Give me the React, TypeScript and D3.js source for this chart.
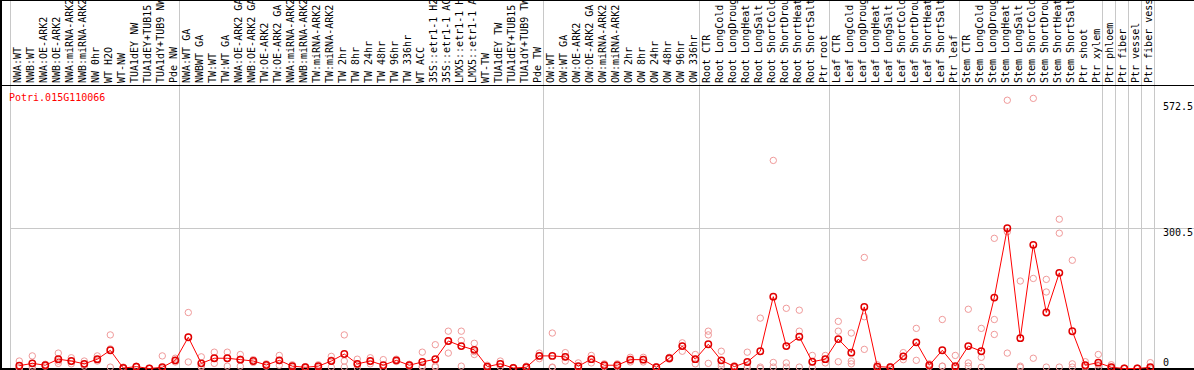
import React from "react";
import * as d3 from "d3";

const title = "Potri.015G110066";

const labels = [
  "NWA:WT", "NWB:WT", "NWA:OE-ARK2", "NWB:OE-ARK2", "NWA:miRNA-ARK2", "NWB:miRNA-ARK2",
  "NW 0hr", "WT H2O", "WT-NW", "TUA1dEY NW", "TUA1dEY+TUB15", "TUA1dY+TUB9 NW", "Pde NW",
  "NWA:WT GA", "NWBWT GA", "TW:WT", "TW:WT GA", "NWA:OE-ARK2 GA", "NWB:OE-ARK2 GA",
  "TW:OE-ARK2", "TW:OE-ARK2 GA", "NWA:miRNA-ARK2", "NWB:miRNA-ARK2", "TW:miRNA-ARK2",
  "TW:miRNA-ARK2", "TW 2hr", "TW 8hr", "TW 24hr", "TW 48hr", "TW 96hr", "TW 336hr",
  "WT ACC", "35S::etr1-1 H2", "35S::etr1-1 AC", "LMX5::etr1-1 H", "LMX5::etr1-1 A",
  "WT-TW", "TUA1dEY TW", "TUA1dEY+TUB15", "TUA1dY+TUB9 TW", "Pde TW",
  "OW:WT", "OW:WT GA", "OW:OE-ARK2", "OW:OE-ARK2 GA", "OW:miRNA-ARK2", "OW:miRNA-ARK2",
  "OW 2hr", "OW 8hr", "OW 24hr", "OW 48hr", "OW 96hr", "OW 336hr",
  "Root CTR", "Root LongCold", "Root LongDroug", "Root LongHeat", "Root LongSalt",
  "Root ShortCold", "Root ShortDrou", "Root ShortHeat", "Root ShortSalt", "Ptr root",
  "Leaf CTR", "Leaf LongCold", "Leaf LongDroug", "Leaf LongHeat", "Leaf LongSalt",
  "Leaf ShortCold", "Leaf ShortDrou", "Leaf ShortHeat", "Leaf ShortSalt", "Ptr leaf",
  "Stem CTR", "Stem LongCold", "Stem LongDroug", "Stem LongHeat", "Stem LongSalt",
  "Stem ShortCold", "Stem ShortDrou", "Stem ShortHeat", "Stem ShortSalt", "Ptr shoot",
  "Ptr xylem", "Ptr phloem", "Ptr fiber", "Ptr vessel", "Ptr fiber vess",
];

const means = [
  6, 11, 7, 20, 16, 10, 20, 39, 1, 4, 0, 2.6, 17.5,
  67, 11, 22, 22, 19, 16, 7.5, 17.5, 5, 2.6, 5, 16, 31, 10, 16, 7, 17.5, 7, 14, 20, 59, 48, 40, 4, 10, 1, 2.6, 27,
  27, 25, 5, 20, 7, 7, 19, 19, 2.6, 22, 48, 20,
  52, 17.5, 4, 14, 37, 154, 48, 68, 14.5, 20,
  63, 34, 132, 4, 2.6, 26, 56, 7, 39, 5,
  48, 37, 152, 300.5, 65, 265, 120, 205, 80, 7, 12.5,
  2.6, 0, 0, 2.6,
];

const repA = [
  16, 27, 9, 33, 23, 16, 27, 72, 3, 5, 0, 27, 22,
  120, 25, 35, 35, 30, 19, 10, 28, 8, 4, 8, 26, 72, 20, 23, 19, 20, 9, 35, 51, 80, 80, 54, 7, 16, 2, 5, 33,
  76, 34, 12, 28, 10, 10, 24, 24, 4, 24, 55, 30,
  80, 37, 6, 35, 108, 446, 129, 125, 28, 28,
  101, 76, 238, 8, 4, 34, 86, 10, 105, 28,
  127, 86, 279, 575, 187.5, 579, 191, 320, 232, 14.5, 30,
  8, 1, 1, 12.5,
];
const repB = [
  2, 5, 7, 16, 15, 9, 18, 42, 0, 4, 0, 1, 17,
  67, 5, 22, 22, 20, 16, 7, 17, 5, 2, 5, 18, 16, 8, 15, 2, 17, 7, 5, 5, 59, 60, 36, 4, 10, 1, 2, 27,
  3, 25, 3, 20, 7, 7, 19, 19, 2, 22, 48, 20,
  72, 10, 4, 5, 3, 13, 12, 80, 14, 20,
  80, 16, 111, 4, 2, 26, 56, 7, 5, 2,
  12, 24, 105, 293, 5, 193, 164, 290, 10, 5, 8,
  1, 0, 0, 0,
];
const repC = [
  0, 1, 5, 11, 10, 5, 16, 3, 0, 3, 0, 0, 14,
  14, 3, 11, 5, 5, 13, 5, 7, 2, 1, 2, 3, 3, 2, 10, 0, 15, 5, 3, 3, 33, 5, 30, 1, 4, 0, 1, 21,
  2, 16, 0, 12, 4, 4, 14, 14, 1, 20, 37, 10,
  11, 5, 2, 2, 0, 3, 3, 3, 2, 12,
  14.5, 10, 41, 0, 1, 19, 17.5, 4, 5, 0,
  5, 2.6, 73, 33, 2.5, 22, 3, 3, 3, 2, 1,
  0, 0, 0, 0,
];

const groupBreaks = [0, 13, 41, 53, 63, 73, 84, 85, 86, 87, 88];
const yTicks = [572.5, 300.5, 0];

const W = 1194;
const H = 370;
const FONT = "'DejaVu Sans Mono', monospace";

export default function App() {
  const idx = labels.map((_, i) => i);
  const x = d3.scaleBand<number>().domain(idx).range([11, 11 + labels.length * 13]).padding(0);
  const y = d3.scaleLinear().domain([0, 300.5]).range([368.5, 228.3]);
  const px = (i: number) => (x(i) as number) + 8.3;
  const line = d3
    .line<number>()
    .x((_, i) => px(i))
    .y((d) => y(d));
  const reps = [repA, repB, repC];
  const crisp = (v: number) => Math.round(v) + 0.5;

  return (
    <svg
      width={W}
      height={H}
      style={{ position: "absolute", left: 0, top: 0, background: "#fff" }}
    >
      <rect x={0} y={0} width={W} height={H} fill="#fff" />
      {/* separators */}
      {groupBreaks.map((g) => {
        const xx = g < labels.length ? (x(g) as number) : 11 + labels.length * 13;
        return (
          <line key={"s" + g} x1={xx - 0.5} x2={xx - 0.5} y1={0} y2={368} stroke="#c8c8c8" strokeWidth={1} />
        );
      })}
      {/* horizontal grid at middle tick */}
      {yTicks
        .filter((t) => t !== 0 && t !== yTicks[0])
        .map((t) => (
          <line key={"g" + t} x1={11} x2={W} y1={crisp(y(t))} y2={crisp(y(t))} stroke="#c8c8c8" strokeWidth={1} />
        ))}
      {/* frame */}
      <line x1={0} x2={W} y1={85.5} y2={85.5} stroke="#000" strokeWidth={1} />
      <line x1={0} x2={W} y1={0.5} y2={0.5} stroke="#000" strokeWidth={1} />
      <line x1={1} x2={1} y1={0} y2={370} stroke="#000" strokeWidth={2} />
      <line x1={0} x2={W} y1={369} y2={369} stroke="#000" strokeWidth={2} />
      {/* labels */}
      {labels.map((l, i) => (
        <text
          key={"l" + i}
          transform={`translate(${(x(i) as number) + 9.5},83) rotate(-90)`}
          fontFamily={FONT}
          fontSize={10}
          fill="#000"
        >
          {l}
        </text>
      ))}
      {/* title */}
      <text x={9} y={100.5} fontFamily={FONT} fontSize={10} fill="#ff0000">
        {title}
      </text>
      {/* y tick labels */}
      {yTicks.map((t) => (
        <text
          key={"t" + t}
          x={1163}
          y={t === 0 ? y(t) - 3 : y(t) + (t === yTicks[0] ? 9 : 7.5)}
          fontFamily={FONT}
          fontSize={10}
          fill="#000"
        >
          {String(t)}
        </text>
      ))}
      {/* replicate circles */}
      {reps.map((arr, k) =>
        arr.map((v, i) => (
          <circle
            key={`r${k}-${i}`}
            cx={px(i)}
            cy={y(v)}
            r={3.2}
            fill="none"
            stroke="#f09a9a"
            strokeWidth={1}
          />
        ))
      )}
      {/* mean line */}
      <path d={line(means) || ""} fill="none" stroke="#ff0000" strokeWidth={1} />
      {means.map((v, i) => (
        <circle
          key={"m" + i}
          cx={px(i)}
          cy={y(v)}
          r={3.2}
          fill="none"
          stroke="#e00000"
          strokeWidth={1.5}
        />
      ))}
    </svg>
  );
}
